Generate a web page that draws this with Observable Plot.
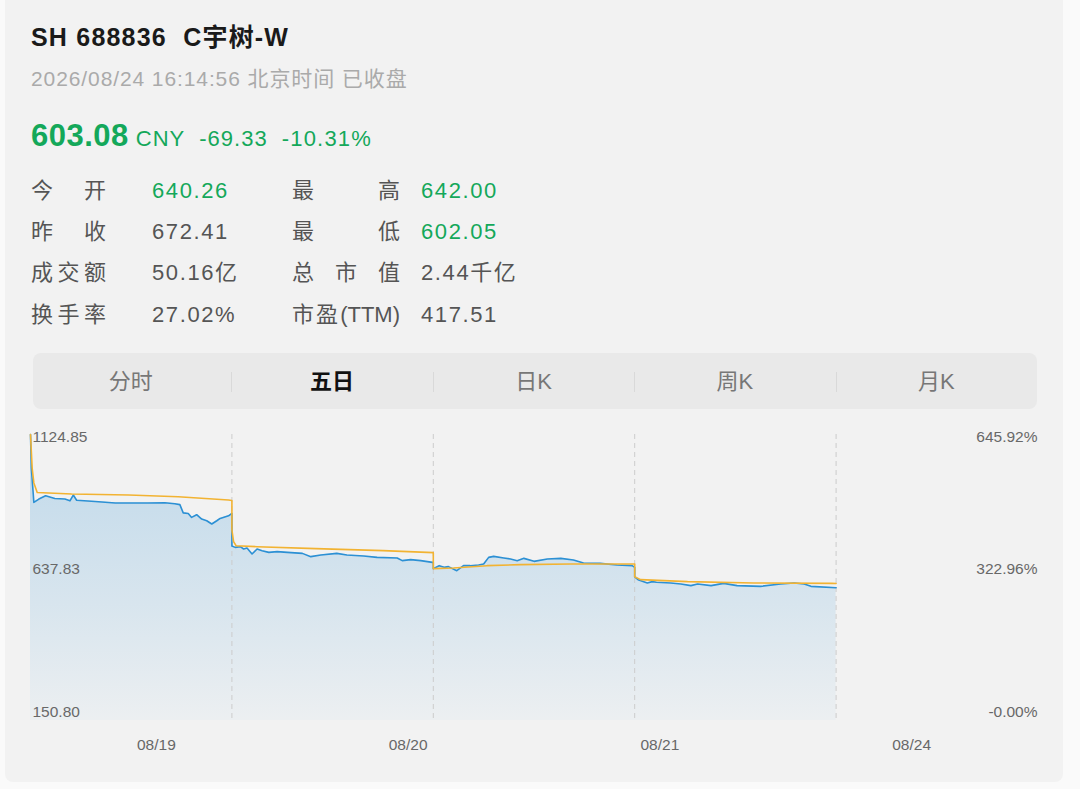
<!DOCTYPE html>
<html>
<head>
<meta charset="utf-8">
<script src="https://cdn.jsdelivr.net/npm/d3@7"></script>
<script src="https://cdn.jsdelivr.net/npm/@observablehq/plot@0.6"></script>
<style>
  html, body { margin: 0; padding: 0; }
  body { width: 1080px; height: 789px; overflow: hidden; position: relative; background: #fafafa;
         font-family: "Liberation Sans", "Noto Sans CJK SC", sans-serif; }
  #card { position: absolute; left: 5px; top: -10px; width: 1058px; height: 792px; background: #f2f2f2; border-radius: 8px; }
  .abs { position: absolute; white-space: nowrap; line-height: 1; }
  .lab { position: absolute; white-space: nowrap; line-height: 1; font-size: 22px; color: #555; text-align: justify; text-align-last: justify; }
  .val { position: absolute; white-space: nowrap; line-height: 1; font-size: 22px; color: #555; letter-spacing: 1.6px; }
  #tabs { position: absolute; left: 33px; top: 353px; width: 1004px; height: 56px; background: #e9e9e9; border-radius: 8px; }
  .tab { position: absolute; top: 371px; width: 120px; margin-left: -60px; text-align: center; font-size: 22px; color: #777; line-height: 1; }
  .sep { position: absolute; top: 372px; width: 1px; height: 20px; background: #d9d9d9; }
  #chart { position: absolute; left: 0; top: 425px; }
</style>
</head>
<body>
<div id="card"></div>
<div id="header"></div>
<div id="tabs"></div>
<div id="tabItems"></div>
<div id="chart"></div>
<script>
// ---------- header data ----------
const titleText = "SH 688836  C宇树-W";
const timeText = "2026/08/24 16:14:56 北京时间 已收盘";
const lastPrice = "603.08";
const currency = "CNY";
const change = "-69.33";
const changePct = "-10.31%";
const leftLabels = ["今开", "昨收", "成交额", "换手率"];
const leftValues = ["640.26", "672.41", "50.16亿", "27.02%"];
const leftGreen = [true, false, false, false];
const rightLabels = ["最高", "最低", "总市值", "市盈(TTM)"];
const rightValues = ["642.00", "602.05", "2.44千亿", "417.51"];
const rightGreen = [true, true, false, false];
const tabs = ["分时", "五日", "日K", "周K", "月K"];
const activeTab = "五日";

// ---------- chart data ----------
const dates = ["08/19", "08/20", "08/21", "08/24"];
const priceTicks = [150.80, 637.83, 1124.85];
const pctTicks = ["-0.00%", "322.96%", "645.92%"];
const dayCount = 5;
const minutesPerDay = 240;

// [minute, price] samples per trading day
const priceDay1 = [[0,1124.85],[1,1010],[4,893.5],[10,905],[18,916],[29,907],[41,905],[47,899],[51,918.7],[55,901],[77,896.9],[101,891.4],[140,891.4],[160,892.5],[172,889.1],[178,886],[182,858],[188,856],[192,842.5],[198,851.7],[204,837],[210,831.2],[216,820],[222,831],[226,839],[236,848],[240,856]];
const priceDay2 = [[0,745],[4,740.4],[10,742.8],[14,735],[18,738.4],[24,718],[30,735],[36,729.2],[44,723.4],[54,725.8],[66,723.4],[84,720],[94,708.8],[106,714.5],[125,720],[137,714.5],[157,711.2],[173,706.4],[197,704.4],[203,695.2],[213,698.6],[225,695.2],[239,689.4],[240,689]];
const priceDay3 = [[0,668],[7,678.1],[13,672.4],[18,674.8],[28,661.1],[36,678.1],[44,678.1],[54,680.5],[60,684],[66,706.4],[72,709.8],[84,704.4],[92,701],[100,695.2],[108,703],[120,692.8],[136,701],[152,703],[167,697.6],[179,687.4],[199,686],[219,680.6],[237,678.1],[240,672.41]];
const priceDay4 = [[0,640.26],[4,630.5],[15,619.3],[21,623.7],[26,621.4],[43,619.3],[55,615.9],[67,610.1],[75,615.9],[91,610.1],[106,617.9],[122,610.1],[150,607.7],[174,615.9],[190,619.3],[202,615.9],[210,607.7],[240,603.08]];

const avgDay1 = [[0,1124.85],[2,1010],[4,960],[8,927.5],[49,922],[117,918.7],[176,913],[236,901.7],[240,900]];
const avgDay2 = [[0,800],[2,760],[5,746],[30,742.8],[100,736],[180,729.2],[240,722.4]];
const avgDay3 = [[0,668],[24,670.3],[64,678.1],[104,681.6],[164,684],[240,684]];
const avgDay4 = [[0,640.26],[7,630.5],[63,623.7],[142,619.3],[235,617.9],[240,617.6]];

const priceDays = [priceDay1, priceDay2, priceDay3, priceDay4];
const avgDays = [avgDay1, avgDay2, avgDay3, avgDay4];

// ---------- colors ----------
const green = "#14a85a";
const blue = "#2c90d4";
const yellow = "#f2b332";
const axisGray = "#686868";

// ---------- header ----------
const header = document.getElementById("header");
function addDiv(html, style, cls) {
  const d = document.createElement("div");
  d.className = cls || "abs";
  d.innerHTML = html;
  Object.assign(d.style, style);
  header.appendChild(d);
  return d;
}
addDiv(titleText.replace(/ /g, "&nbsp;"), {left: "31px", top: "25px", fontSize: "25px", fontWeight: "bold", color: "#1a1a1a", letterSpacing: "1.2px"});
addDiv(timeText, {left: "31px", top: "68px", fontSize: "21px", color: "#aaaaaa", letterSpacing: "0.9px"});
addDiv(
  `<span style="font-size:31px;font-weight:bold;letter-spacing:0.5px">${lastPrice}</span>` +
  `<span style="font-size:22px;letter-spacing:1px;margin-left:7px">${currency}</span>` +
  `<span style="font-size:22px;letter-spacing:1px;margin-left:14px">${change}</span>` +
  `<span style="font-size:22px;letter-spacing:1.2px;margin-left:14px">${changePct}</span>`,
  {left: "31px", top: "120px", color: green});

const rowTop = 180, rowStep = 41.2;
leftLabels.forEach((l, i) => {
  addDiv(l, {left: "31px", top: (rowTop + i * rowStep) + "px", width: "75px"}, "lab");
  const v = addDiv(leftValues[i], {left: "152px", top: (rowTop + i * rowStep) + "px"}, "val");
  if (leftGreen[i]) v.style.color = green;
});
rightLabels.forEach((l, i) => {
  addDiv(l, {left: "292px", top: (rowTop + i * rowStep) + "px", width: "108px"}, "lab");
  const v = addDiv(rightValues[i], {left: "421px", top: (rowTop + i * rowStep) + "px"}, "val");
  if (rightGreen[i]) v.style.color = green;
});

// ---------- tabs ----------
const tabItems = document.getElementById("tabItems");
const chartLeft = 30, chartRight = 1037;
const slot = (chartRight - chartLeft) / tabs.length;
tabs.forEach((t, i) => {
  const d = document.createElement("div");
  d.className = "tab";
  d.textContent = t;
  d.style.left = (chartLeft + slot * (i + 0.5)) + "px";
  if (t === activeTab) { d.style.color = "#111"; d.style.fontWeight = "bold"; }
  tabItems.appendChild(d);
  if (i > 0) {
    const s = document.createElement("div");
    s.className = "sep";
    s.style.left = (chartLeft + slot * i) + "px";
    tabItems.appendChild(s);
  }
});

// ---------- chart ----------
const priceRows = priceDays.flatMap((day, d) => day.map(([m, p]) => ({x: d + m / minutesPerDay, price: p})));
const avgRows = avgDays.flatMap((day, d) => day.map(([m, p]) => ({x: d + m / minutesPerDay, avg: p})));
const tickRows = priceTicks.map((p, i) => ({p, pct: pctTicks[i], label: p.toFixed(2)}));
const topTick = tickRows.filter(d => d.p === d3.max(priceTicks));
const lowerTicks = tickRows.filter(d => d.p !== d3.max(priceTicks));
const dateRows = dates.map((d, i) => ({label: d, x: (i + 0.5) * dayCount / dates.length}));
const yMin = d3.min(priceTicks), yMax = d3.max(priceTicks);
const fs = 15.5;

const plot = Plot.plot({
  width: 1080,
  height: 357,
  marginLeft: chartLeft,
  marginRight: 1080 - chartRight,
  marginTop: 9,
  marginBottom: 62,
  style: {background: "transparent", fontFamily: "'Liberation Sans', 'Noto Sans CJK SC', sans-serif"},
  x: {domain: [0, dayCount], axis: null},
  y: {domain: [yMin, yMax], axis: null},
  marks: [
    Plot.areaY(priceRows, {x: "x", y1: yMin, y2: "price", fill: "url(#areaGrad)", curve: "linear"}),
    Plot.ruleX(d3.range(1, dayCount), {stroke: "#cccccc", strokeDasharray: "5,4", strokeWidth: 1}),
    Plot.line(priceRows, {x: "x", y: "price", stroke: blue, strokeWidth: 1.6}),
    Plot.line(avgRows, {x: "x", y: "avg", stroke: yellow, strokeWidth: 1.6}),
    Plot.text(topTick, {x: 0, y: "p", text: "label", dx: 2, dy: 3, textAnchor: "start", fill: axisGray, fontSize: fs}),
    Plot.text(lowerTicks, {x: 0, y: "p", text: "label", dx: 2, dy: -8, textAnchor: "start", fill: axisGray, fontSize: fs}),
    Plot.text(topTick, {x: dayCount, y: "p", text: "pct", dy: 3, textAnchor: "end", fill: axisGray, fontSize: fs}),
    Plot.text(lowerTicks, {x: dayCount, y: "p", text: "pct", dy: -8, textAnchor: "end", fill: axisGray, fontSize: fs}),
    Plot.text(dateRows, {x: "x", y: yMin, text: "label", dy: 25, fill: axisGray, fontSize: fs})
  ]
});

// gradient for the area fill
const ns = "http://www.w3.org/2000/svg";
const defs = document.createElementNS(ns, "defs");
const grad = document.createElementNS(ns, "linearGradient");
grad.setAttribute("id", "areaGrad");
grad.setAttribute("gradientUnits", "userSpaceOnUse");
grad.setAttribute("x1", 0); grad.setAttribute("x2", 0);
grad.setAttribute("y1", 9); grad.setAttribute("y2", 357 - 62);
[[0, 0.26], [0.6, 0.13], [1, 0.03]].forEach(([o, a]) => {
  const st = document.createElementNS(ns, "stop");
  st.setAttribute("offset", o);
  st.setAttribute("stop-color", blue);
  st.setAttribute("stop-opacity", a);
  grad.appendChild(st);
});
defs.appendChild(grad);
plot.insertBefore(defs, plot.firstChild);
document.getElementById("chart").appendChild(plot);
</script>
</body>
</html>
